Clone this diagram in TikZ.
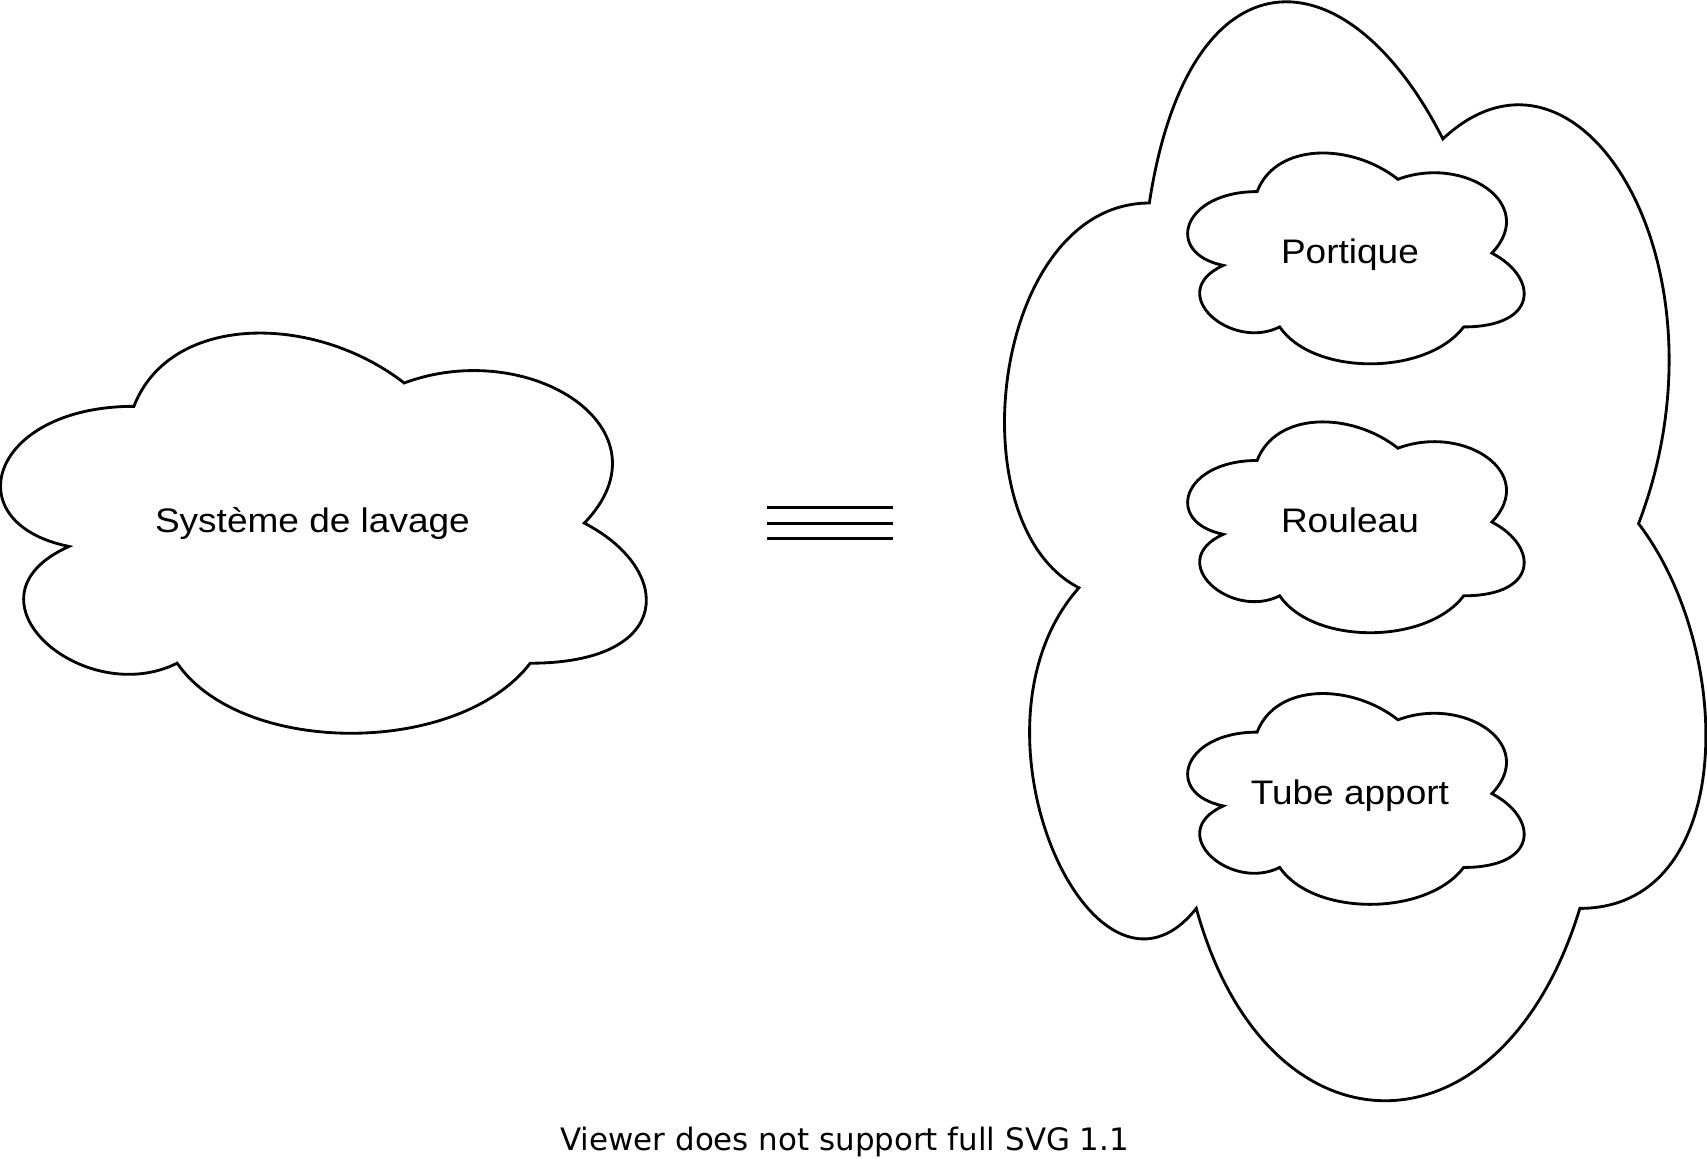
\documentclass[tikz,border=0pt]{standalone}
\usepackage{fontspec}
\setmainfont{Liberation Sans}
\newfontfamily\dejavufont{DejaVu Sans}
\newcommand\drawiocloud[4]{%
  \draw[cloudline]
    ({#1+0.25*#3},{#2+0.25*#4})
    .. controls ({#1+0.05*#3},{#2+0.25*#4}) and ({#1},{#2+0.5*#4}) .. ({#1+0.16*#3},{#2+0.55*#4})
    .. controls ({#1},{#2+0.66*#4}) and ({#1+0.18*#3},{#2+0.9*#4}) .. ({#1+0.31*#3},{#2+0.8*#4})
    .. controls ({#1+0.4*#3},{#2+#4}) and ({#1+0.7*#3},{#2+#4}) .. ({#1+0.8*#3},{#2+0.8*#4})
    .. controls ({#1+#3},{#2+0.8*#4}) and ({#1+#3},{#2+0.6*#4}) .. ({#1+0.875*#3},{#2+0.5*#4})
    .. controls ({#1+#3},{#2+0.3*#4}) and ({#1+0.8*#3},{#2+0.1*#4}) .. ({#1+0.625*#3},{#2+0.2*#4})
    .. controls ({#1+0.5*#3},{#2+0.05*#4}) and ({#1+0.3*#3},{#2+0.05*#4}) .. ({#1+0.25*#3},{#2+0.25*#4})
    -- cycle;}
\begin{document}
\begin{tikzpicture}[x=0.5pt,y=-0.5pt,
  cloudline/.style={draw=black,line width=1.3pt,line join=miter,fill=white},
  lbl/.style={anchor=base,inner sep=0pt,yscale=0.92,transform shape,font=\fontsize{17}{20}\selectfont},
  eqline/.style={draw=black,line width=1.35pt}]
\useasboundingbox (0,0) rectangle (1568,1064);
% left cloud
\drawiocloud{-42.5}{266}{662}{429}
\node[lbl] (sys) at (287,489.3) {Système de lavage};
% equivalence sign
\draw[eqline] (704.5,466) -- (820,466);
\draw[eqline] (704.5,480.5) -- (820,480.5);
\draw[eqline] (704.5,495) -- (820,495);
% big cloud
\drawiocloud{876}{-108}{719}{1178}
% small clouds
\drawiocloud{1068.5}{119.5}{345}{226}
\node[lbl] (portique) at (1240,242) {Portique};
\drawiocloud{1068.5}{366.5}{345}{226}
\node[lbl] (rouleau) at (1240,489) {Rouleau};
\drawiocloud{1068.5}{616}{345}{226}
\node[lbl] (tube) at (1240,739) {Tube apport};
% footer
\node[anchor=base,inner sep=0pt,font=\dejavufont\fontsize{14.2}{17}\selectfont] (foot) at (776,1057) {Viewer does not support full SVG 1.1};
\end{tikzpicture}
\end{document}
